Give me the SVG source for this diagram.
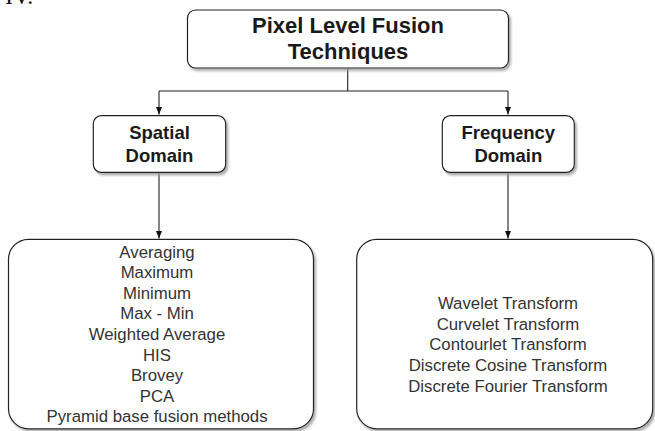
<svg xmlns="http://www.w3.org/2000/svg" width="655" height="431" viewBox="0 0 655 431">
<defs>
<marker id="arr" viewBox="0 0 8 8" refX="8" refY="4" markerWidth="8" markerHeight="8" markerUnits="userSpaceOnUse" orient="auto">
<path d="M0,0.8 L8,4 L0,7.2 z" fill="#111"/>
</marker>
<filter id="sh" x="-10%" y="-10%" width="120%" height="130%">
<feDropShadow dx="2" dy="2.5" stdDeviation="1" flood-color="#999" flood-opacity="0.8"/>
</filter>
</defs>
<style>
.box{fill:#fff;stroke:#222;stroke-width:1.2;filter:url(#sh)}
.t{font-family:"Liberation Sans",Arial,sans-serif;text-anchor:middle;fill:#1a1a1a}
.b{font-weight:bold}
.l{font-size:16.8px;fill:#333}
.conn{fill:none;stroke:#222;stroke-width:1.1}
</style>
<rect width="655" height="431" fill="#fff"/>
<text x="5" y="4" font-family="'Liberation Serif',serif" font-size="24" fill="#111">IV.</text>
<g id="connectors">
<path class="conn" d="M347.7,68 V91"/>
<path class="conn" d="M159,91 H508"/>
<path class="conn" d="M159,91 V114.5" marker-end="url(#arr)"/>
<path class="conn" d="M508,91 V114.5" marker-end="url(#arr)"/>
<path class="conn" d="M159,172.5 V238.5" marker-end="url(#arr)"/>
<path class="conn" d="M508,172.5 V238.5" marker-end="url(#arr)"/>
</g>
<g id="root">
<rect class="box" x="187.5" y="10" width="321" height="58" rx="8"/>
<text class="t b" x="348" y="33.3" font-size="22">Pixel Level Fusion</text>
<text class="t b" x="348" y="59.3" font-size="22">Techniques</text>
</g>
<g id="spatial">
<rect class="box" x="93.3" y="115.7" width="132.4" height="56.6" rx="8"/>
<text class="t b" x="159.5" y="139.3" font-size="18.5">Spatial</text>
<text class="t b" x="159.5" y="162.3" font-size="18.5">Domain</text>
</g>
<g id="frequency">
<rect class="box" x="442.3" y="115.7" width="132" height="56.6" rx="8"/>
<text class="t b" x="508.3" y="139.3" font-size="18.5">Frequency</text>
<text class="t b" x="508.3" y="162.3" font-size="18.5">Domain</text>
</g>
<g id="spatial-methods">
<rect class="box" x="8.5" y="239.3" width="305" height="189.5" rx="20"/>
<text class="t l" x="157"><tspan x="157" y="257.5">Averaging</tspan><tspan x="157" y="278.1">Maximum</tspan><tspan x="157" y="298.7">Minimum</tspan><tspan x="157" y="319.3">Max - Min</tspan><tspan x="157" y="339.9">Weighted Average</tspan><tspan x="157" y="360.5">HIS</tspan><tspan x="157" y="381.1">Brovey</tspan><tspan x="157" y="401.7">PCA</tspan><tspan x="157" y="422.3">Pyramid base fusion methods</tspan></text>
</g>
<g id="frequency-methods">
<rect class="box" x="356.7" y="239.3" width="296" height="189.5" rx="20"/>
<text class="t l" x="508"><tspan x="508" y="308.7">Wavelet Transform</tspan><tspan x="508" y="329.5">Curvelet Transform</tspan><tspan x="508" y="350.3">Contourlet Transform</tspan><tspan x="508" y="371.1">Discrete Cosine Transform</tspan><tspan x="508" y="391.9">Discrete Fourier Transform</tspan></text>
</g>
</svg>
